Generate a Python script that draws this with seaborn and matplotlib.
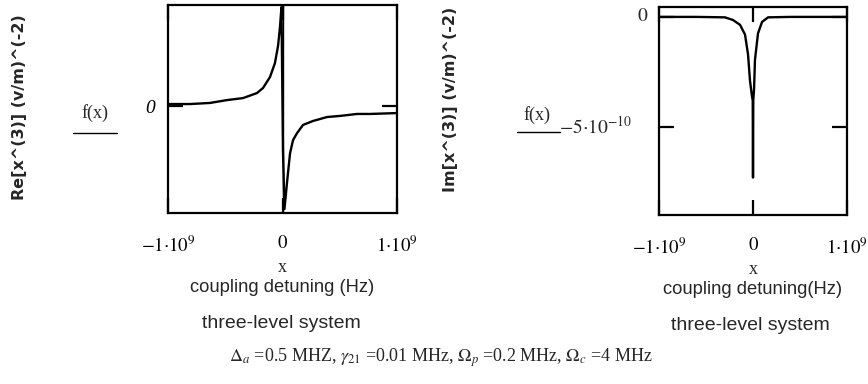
import numpy as np
import pandas as pd
import matplotlib
matplotlib.use("Agg")
import matplotlib.pyplot as plt
import matplotlib.transforms as mtransforms
from matplotlib.lines import Line2D
import seaborn as sns

# ---------------- data ----------------
# Real part: x in units of 1e9 Hz, y in units of 1e-10 (v/m)^-2
re_x = [-1.0, -0.808, -0.633, -0.485, -0.345, -0.223, -0.170, -0.109, -0.066,
        -0.039, -0.022, -0.009, 0.004, 0.017, 0.039, 0.066, 0.092, 0.127,
        0.179, 0.266, 0.389, 0.502, 0.651, 0.764, 1.0]
re_y = [0.09, 0.09, 0.14, 0.27, 0.36, 0.59, 0.82, 1.32, 1.95,
        2.73, 3.59, 4.5, -2.0, -4.68, -3.5, -2.14, -1.55, -1.23,
        -0.86, -0.68, -0.5, -0.45, -0.36, -0.36, -0.32]

# Imaginary part
im_x = [-1.0, -0.6, -0.298, -0.213, -0.138, -0.085, -0.053, -0.032, -0.011,
        -0.003, 0.0, 0.003, 0.011, 0.021, 0.053, 0.096, 0.16, 0.4, 1.0]
im_y = [0.0, 0.0, -0.02, -0.14, -0.36, -0.8, -1.7, -2.9, -3.6,
        -3.8, -7.3, -3.8, -3.3, -1.95, -0.75, -0.23, -0.02, 0.0, 0.0]

x_ticks = [-1e9, 0, 1e9]
x_ticklabels = [r'$-1{\cdot}10^{9}$', r'$0$', r'$1{\cdot}10^{9}$']
re_yticks = [0.0]
re_yticklabels = ['0']
im_yticks = [0.0, -5e-10]
im_yticklabels = [r'$0$', r'$-5{\cdot}10^{-10}$']

re_ylabel = 'Re[x^(3)] (v/m)^(-2)'
im_ylabel = 'Im[x^(3)] (v/m)^(-2)'
xvar_label = 'x'
re_xlabel = 'coupling detuning (Hz)'
im_xlabel = 'coupling detuning(Hz)'
caption = 'three-level system'
params = (r'$\Delta_a$ =0.5 MHZ, $\gamma_{21}$ =0.01 MHz, '
          r'$\mathit{\Omega}_p$ =0.2 MHz, $\mathit{\Omega}_c$ =4 MHz')

df_re = pd.DataFrame({'x': np.array(re_x) * 1e9, 'y': np.array(re_y) * 1e-10})
df_im = pd.DataFrame({'x': np.array(im_x) * 1e9, 'y': np.array(im_y) * 1e-10})

# ---------------- style ----------------
sns.set_style('ticks')
plt.rcParams['font.family'] = ['Liberation Serif', 'DejaVu Serif']
plt.rcParams['mathtext.fontset'] = 'stix'
plt.rcParams['axes.linewidth'] = 1.6

W, H = 868, 384
fig = plt.figure(figsize=(W / 100, H / 100), dpi=100)
fig.patch.set_facecolor('white')


def fx(px):
    return px / W


def fy(py):
    return 1 - py / H


ax1 = fig.add_axes([fx(168), fy(213), (397 - 168) / W, (213 - 5) / H])
ax2 = fig.add_axes([fx(659), fy(215), (847 - 659) / W, (215 - 7) / H])

LW = 1.7
sns.lineplot(data=df_re, x='x', y='y', ax=ax1, color='black', lw=LW,
             sort=False, estimator=None)
ax1.axvline(0, color='black', lw=1.0)
sns.lineplot(data=df_im, x='x', y='y', ax=ax2, color='black', lw=LW,
             sort=False, estimator=None)

ax1.set_xlim(-1e9, 1e9)
ax1.set_ylim(-4.86e-10, 4.59e-10)
ax2.set_xlim(-1e9, 1e9)
ax2.set_ylim(-9.0e-10, 0.45e-10)

for ax in (ax1, ax2):
    ax.set_xlabel('')
    ax.set_ylabel('')
    for s in ax.spines.values():
        s.set_visible(True)
        s.set_color('black')
    ax.set_xticks(x_ticks)
    ax.set_xticklabels(x_ticklabels, fontsize=13.5)
    ax.tick_params(axis='both', direction='in', length=11, width=1.6,
                   top=True, right=True, colors='black')
    ax.tick_params(axis='x', pad=16)

ax1.set_yticks(re_yticks)
ax1.set_yticklabels(re_yticklabels, fontsize=14, style='italic')
ax1.tick_params(axis='y', pad=9)

ax2.set_yticks(im_yticks)
ax2.set_yticklabels(['', ''])
blend = mtransforms.blended_transform_factory(ax2.transAxes, ax2.transData)
ax2.text((648 - 659) / 188, im_yticks[0], im_yticklabels[0], transform=blend,
         ha='right', va='center', fontsize=14)
ax2.text((632 - 659) / 188, im_yticks[1], im_yticklabels[1], transform=blend,
         ha='right', va='center', fontsize=14)

# y labels (rotated)
ylab_font = dict(family=['DejaVu Sans'], fontweight='bold',
                 fontsize=11.5, rotation=90, ha='center', va='center')
fig.text(fx(20), fy(107), re_ylabel, **ylab_font)
fig.text(fx(451), fy(99), im_ylabel, **ylab_font)

# f(x) with rule below
fig.text(fx(95), fy(113), 'f(x)', ha='center', va='center', fontsize=13)
fig.add_artist(Line2D([fx(73), fx(117)], [fy(133), fy(133)], color='black', lw=1.0))
fig.text(fx(537), fy(115), 'f(x)', ha='center', va='center', fontsize=13)
fig.add_artist(Line2D([fx(517), fx(560)], [fy(132), fy(132)], color='black', lw=1.0))

# x labels
narrow = ['Liberation Sans Narrow', 'Liberation Sans', 'DejaVu Sans']
fig.text(fx(282), fy(267), xvar_label, ha='center', va='center', fontsize=13)
fig.text(fx(282), fy(288), re_xlabel, ha='center', va='center', fontsize=13.2,
         family=narrow)
fig.text(fx(753), fy(269), xvar_label, ha='center', va='center', fontsize=13)
fig.text(fx(753), fy(290), im_xlabel, ha='center', va='center', fontsize=13.2,
         family=narrow)

# captions
fig.text(fx(281), fy(323), caption, ha='center', va='center', fontsize=14,
         family=narrow)
fig.text(fx(750), fy(326), caption, ha='center', va='center', fontsize=14,
         family=narrow)

# parameters line
fig.text(fx(441), fy(358), params, ha='center', va='center', fontsize=13)

fig.savefig('out.png', dpi=100, facecolor='white')
